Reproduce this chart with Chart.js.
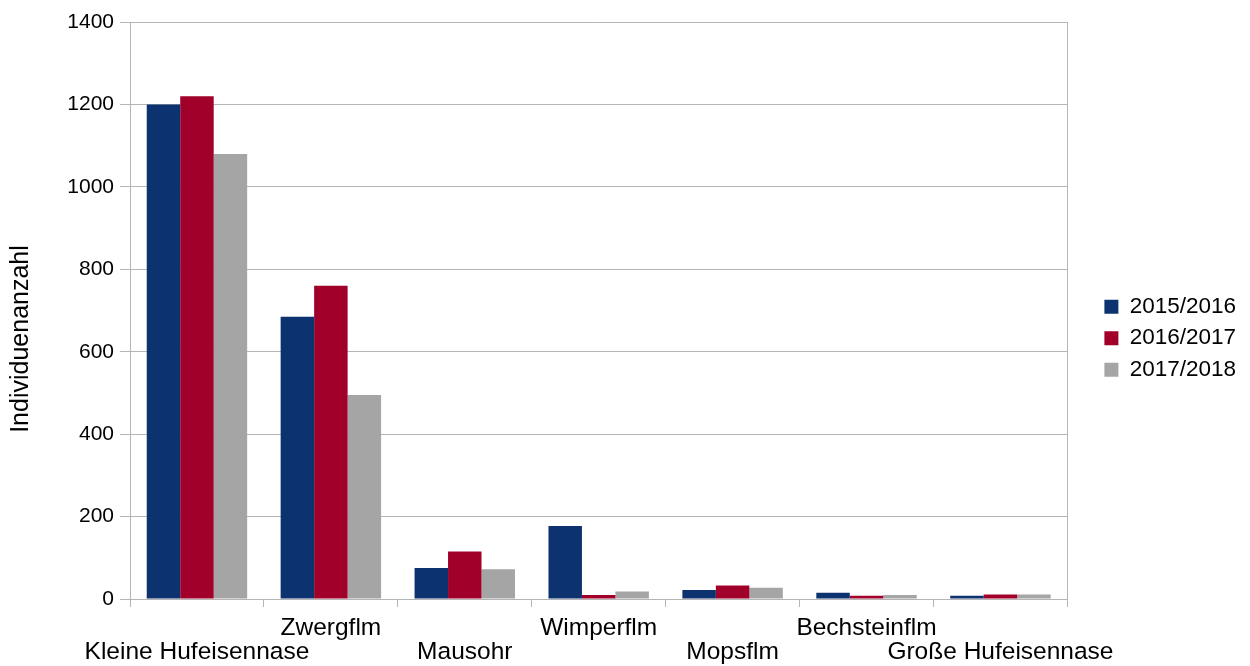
<!DOCTYPE html>
<html>
<head>
<meta charset="utf-8">
<script src="https://cdn.jsdelivr.net/npm/chart.js@4/dist/chart.umd.min.js"></script>
<style>
  html, body { margin: 0; padding: 0; background: #ffffff; }
  #wrap { width: 1250px; height: 666px; position: relative; }
</style>
</head>
<body>
<div id="wrap"><canvas id="c"></canvas></div>
<script>
// Überwinterungszählung: Individuen je Art und Winter
const categories = [
  'Kleine Hufeisennase', 'Zwergflm', 'Mausohr', 'Wimperflm',
  'Mopsflm', 'Bechsteinflm', 'Große Hufeisennase'
];
const seriesNames = ['2015/2016', '2016/2017', '2017/2018'];
const values2015 = [1200, 685, 75, 177, 22, 15, 8];
const values2016 = [1220, 760, 115, 10, 33, 8, 11];
const values2017 = [1080, 495, 72, 18, 27, 10, 11];
const yTicks = [0, 200, 400, 600, 800, 1000, 1200, 1400];
const yTitle = 'Individuenanzahl';

const colors = ['#0c3370', '#a1002a', '#a5a5a5'];
const gridColor = '#b5b5b5';
const textFont = "'Liberation Sans', Arial, sans-serif";

// Category names alternate between two text rows
const staggered = categories.map((c, i) => (i % 2 === 0 ? ['', c] : [c]));

// Vertical axis title, placed beside the value axis
const titlePlugin = {
  id: 'yTitle',
  afterDraw(chart) {
    const { ctx } = chart;
    ctx.save();
    ctx.translate(21, 339);
    ctx.rotate(-Math.PI / 2);
    ctx.fillStyle = '#000';
    ctx.font = '25px ' + textFont;
    ctx.textAlign = 'center';
    ctx.textBaseline = 'middle';
    ctx.fillText(yTitle, 0, 0);
    ctx.restore();
  }
};

new Chart(document.getElementById('c'), {
  type: 'bar',
  data: {
    labels: staggered,
    datasets: [values2015, values2016, values2017].map((v, i) => ({
      label: seriesNames[i],
      data: v,
      backgroundColor: colors[i],
      borderWidth: 0,
      categoryPercentage: 0.75,
      barPercentage: 1.0
    }))
  },
  options: {
    responsive: true,
    maintainAspectRatio: false,
    animation: false,
    devicePixelRatio: 1,
    layout: { padding: { top: 22, right: 4, left: 0, bottom: 0 } },
    plugins: {
      tooltip: { enabled: false },
      legend: {
        position: 'right',
        align: 'start',
        // empty title used as top spacing for the legend column
        title: { display: true, text: '', padding: { top: 250, bottom: 0 } },
        labels: {
          color: '#000',
          font: { family: textFont, size: 22.5 },
          boxWidth: 14,
          boxHeight: 14,
          padding: 9
        }
      }
    },
    scales: {
      x: {
        grid: {
          display: true,
          offset: true,
          drawOnChartArea: false,
          color: gridColor,
          tickLength: 8
        },
        border: { display: true, color: gridColor },
        ticks: {
          color: '#000',
          font: { family: textFont, size: 24.5, lineHeight: 0.98 },
          maxRotation: 0,
          minRotation: 0,
          autoSkip: false,
          padding: 9
        },
        afterFit(scale) { scale.height = 67; }
      },
      y: {
        min: 0,
        max: 1400,
        afterBuildTicks(scale) { scale.ticks = yTicks.map(v => ({ value: v })); },
        grid: { color: gridColor, tickLength: 10 },
        border: { display: true, color: gridColor },
        ticks: {
          color: '#000',
          font: { family: textFont, size: 21 },
          padding: 6,
          callback: (v) => String(v)
        },
        afterFit(scale) { scale.width = 130; }
      },
      // right frame edge of the plot area
      yRight: {
        position: 'right',
        min: 0,
        max: 1400,
        grid: { drawOnChartArea: false, drawTicks: false, tickLength: 0 },
        border: { display: true, color: gridColor },
        ticks: { display: false },
        afterFit(scale) { scale.width = 28; }
      }
    }
  },
  plugins: [titlePlugin]
});
</script>
</body>
</html>
